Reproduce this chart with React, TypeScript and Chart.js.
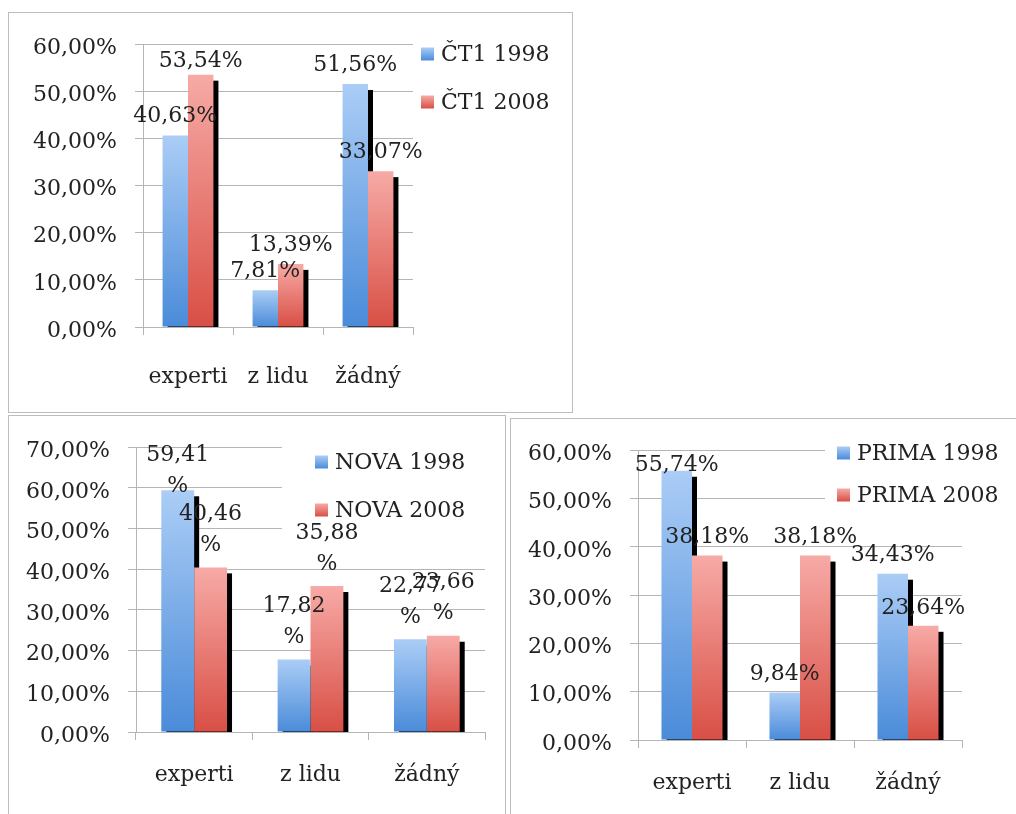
import React, { useEffect, useRef } from "react";
import { Chart, registerables } from "chart.js";

Chart.register(...registerables);

// ---------- data ----------
const categories = ["experti", "z lidu", "žádný"];

const ct1Names = ["ČT1 1998", "ČT1 2008"];
const ct1_1998 = [40.63, 7.81, 51.56];
const ct1_2008 = [53.54, 13.39, 33.07];

const novaNames = ["NOVA 1998", "NOVA 2008"];
const nova_1998 = [59.41, 17.82, 22.77];
const nova_2008 = [40.46, 35.88, 23.66];

const primaNames = ["PRIMA 1998", "PRIMA 2008"];
const prima_1998 = [55.74, 9.84, 34.43];
const prima_2008 = [38.18, 38.18, 23.64];

const ct1Max = 60;
const novaMax = 70;
const primaMax = 60;
const tickStep = 10;

// ---------- styles ----------
const FONT_FAMILY = '"DejaVu Serif", serif';
const FONT_SIZE = 22;
const TEXT = "#222222";
const GRID = "#b5b5b5";
const BORDER = "#bdbdbd";
const BLUE_TOP = "#abcdf6";
const BLUE_BOTTOM = "#4a8bd9";
const RED_TOP = "#f7aaa6";
const RED_BOTTOM = "#d84f45";
const SHADOW_DX = 5;
const SHADOW_DY = 6;

const fmt = (v: number) => v.toFixed(2).replace(".", ",") + "%";

const gradient = (top: string, bottom: string) => (ctx: any) => {
  const chart = ctx.chart;
  const y = chart.scales && chart.scales.y;
  if (!y || ctx.raw == null || !chart.chartArea) return top;
  const y0 = y.getPixelForValue(ctx.raw);
  const y1 = y.getPixelForValue(0);
  if (!isFinite(y0) || !isFinite(y1) || y0 === y1) return top;
  const g = chart.ctx.createLinearGradient(0, y0, 0, y1);
  g.addColorStop(0, top);
  g.addColorStop(1, bottom);
  return g;
};

// black offset shadow behind every bar, drawn before the bars themselves
const shadowPlugin = {
  id: "barShadow",
  beforeDatasetsDraw(chart: any) {
    const c = chart.ctx;
    const a = chart.chartArea;
    c.save();
    c.beginPath();
    c.rect(a.left, a.top, a.right - a.left, a.bottom - a.top);
    c.clip();
    c.fillStyle = "#000000";
    chart.data.datasets.forEach((_ds: any, di: number) => {
      chart.getDatasetMeta(di).data.forEach((el: any) => {
        const p = el.getProps(["x", "y", "base", "width"], true);
        c.fillRect(p.x - p.width / 2 + SHADOW_DX, p.y + SHADOW_DY, p.width, p.base - p.y);
      });
    });
    c.restore();
  },
};

const legendPlugin = {
  id: "customLegend",
  beforeDatasetsDraw(chart: any, _args: any, opts: any) {
    const c = chart.ctx;
    c.save();
    if (opts.bg) {
      c.fillStyle = "#ffffff";
      c.fillRect(opts.bg.x, opts.bg.y, opts.bg.w, opts.bg.h);
    }
    const colors = [
      [BLUE_TOP, BLUE_BOTTOM],
      [RED_TOP, RED_BOTTOM],
    ];
    c.font = `${FONT_SIZE}px ${FONT_FAMILY}`;
    c.textBaseline = "middle";
    c.textAlign = "left";
    chart.data.datasets.forEach((ds: any, i: number) => {
      const cy = opts.y + i * opts.gap;
      const s = opts.size;
      const g = c.createLinearGradient(0, cy - s / 2, 0, cy + s / 2);
      g.addColorStop(0, colors[i][0]);
      g.addColorStop(1, colors[i][1]);
      c.fillStyle = g;
      c.fillRect(opts.x, cy - s / 2, s, s);
      c.fillStyle = TEXT;
      c.fillText(ds.label, opts.x + s + 7, cy + 1);
    });
    c.restore();
  },
};

const labelPlugin = {
  id: "barLabels",
  afterDatasetsDraw(chart: any, _args: any, opts: any) {
    const c = chart.ctx;
    const area = chart.chartArea;
    c.save();
    c.font = `${FONT_SIZE}px ${FONT_FAMILY}`;
    c.fillStyle = TEXT;
    c.textAlign = "center";
    c.textBaseline = "middle";
    chart.data.datasets.forEach((ds: any, di: number) => {
      const meta = chart.getDatasetMeta(di);
      meta.data.forEach((el: any, i: number) => {
        const txt = fmt(ds.data[i]);
        const lines = opts.wrap ? [txt.slice(0, -1), "%"] : [txt];
        const lastCenter = el.y - opts.gap;
        let first = lastCenter - (lines.length - 1) * opts.lineGap;
        first = Math.max(first, area.top + opts.minTop);
        lines.forEach((l: string, k: number) => {
          c.fillText(l, el.x, first + k * opts.lineGap);
        });
      });
    });
    c.restore();
  },
};

type Cfg = {
  left: number;
  top: number;
  w: number;
  h: number;
  names: string[];
  s1: number[];
  s2: number[];
  max: number;
  yw: number;
  xh: number;
  pt: number;
  pr: number;
  xPad: number;
  legend: any;
  labels: any;
};

const charts: Cfg[] = [
  {
    left: 8,
    top: 12,
    w: 563,
    h: 399,
    names: ct1Names,
    s1: ct1_1998,
    s2: ct1_2008,
    max: ct1Max,
    yw: 134,
    xh: 85,
    pt: 30,
    pr: 159,
    xPad: 29,
    legend: { x: 412, y: 41, gap: 48, size: 13, bg: null },
    labels: { wrap: false, gap: 19, lineGap: 0, minTop: 17 },
  },
  {
    left: 8,
    top: 415,
    w: 496,
    h: 400,
    names: novaNames,
    s1: nova_1998,
    s2: nova_2008,
    max: novaMax,
    yw: 127,
    xh: 84,
    pt: 31,
    pr: 20,
    xPad: 22,
    legend: { x: 306, y: 46, gap: 48, size: 13, bg: { x: 273, y: 15, w: 210, h: 110 } },
    labels: { wrap: true, gap: 22, lineGap: 31, minTop: 8 },
  },
  {
    left: 510,
    top: 418,
    w: 510,
    h: 400,
    names: primaNames,
    s1: prima_1998,
    s2: prima_2008,
    max: primaMax,
    yw: 127,
    xh: 79,
    pt: 28,
    pr: 59,
    xPad: 22,
    legend: { x: 326, y: 34, gap: 42, size: 13, bg: { x: 314, y: 10, w: 150, h: 95 } },
    labels: { wrap: false, gap: 18, lineGap: 0, minTop: 15 },
  },
];

function BarChart({ cfg }: { cfg: Cfg }) {
  const ref = useRef<HTMLCanvasElement | null>(null);
  useEffect(() => {
    if (!ref.current) return;
    const font = { family: FONT_FAMILY, size: FONT_SIZE };
    const chart = new Chart(ref.current, {
      type: "bar",
      data: {
        labels: categories,
        datasets: [
          {
            label: cfg.names[0],
            data: cfg.s1,
            backgroundColor: gradient(BLUE_TOP, BLUE_BOTTOM),
            borderWidth: 0,
          } as any,
          {
            label: cfg.names[1],
            data: cfg.s2,
            backgroundColor: gradient(RED_TOP, RED_BOTTOM),
            borderWidth: 0,
          } as any,
        ],
      },
      options: {
        responsive: false,
        animation: false,
        devicePixelRatio: 1,
        layout: { padding: { left: 0, top: cfg.pt, right: cfg.pr, bottom: 0 } },
        datasets: { bar: { categoryPercentage: 0.565, barPercentage: 1 } },
        plugins: {
          legend: { display: false },
          tooltip: { enabled: false },
          customLegend: cfg.legend,
          barLabels: cfg.labels,
        } as any,
        scales: {
          x: {
            offset: true,
            grid: {
              display: true,
              drawOnChartArea: false,
              drawTicks: true,
              tickLength: 8,
              color: GRID,
              offset: true,
            },
            border: { display: true, color: GRID },
            ticks: { font, color: TEXT, padding: cfg.xPad, maxRotation: 0, autoSkip: false },
            afterFit: (s: any) => {
              s.height = cfg.xh;
            },
          },
          y: {
            min: 0,
            max: cfg.max,
            grid: { color: GRID, drawTicks: true, tickLength: 8 },
            border: { display: true, color: GRID },
            ticks: {
              stepSize: tickStep,
              font,
              color: TEXT,
              padding: 18,
              labelOffset: 4,
              callback: (v: any) => fmt(Number(v)),
            },
            afterFit: (s: any) => {
              s.width = cfg.yw;
            },
          },
        },
      } as any,
      plugins: [shadowPlugin, legendPlugin, labelPlugin],
    });
    return () => chart.destroy();
  }, [cfg]);

  return (
    <div
      style={{
        position: "absolute",
        left: cfg.left,
        top: cfg.top,
        border: `1px solid ${BORDER}`,
        background: "#ffffff",
      }}
    >
      <canvas
        ref={ref}
        width={cfg.w}
        height={cfg.h}
        style={{ display: "block", width: cfg.w, height: cfg.h }}
      />
    </div>
  );
}

export default function App() {
  return (
    <div
      style={{
        position: "fixed",
        left: 0,
        top: 0,
        width: 1016,
        height: 814,
        overflow: "hidden",
        background: "#ffffff",
      }}
    >
      {charts.map((c, i) => (
        <BarChart key={i} cfg={c} />
      ))}
    </div>
  );
}
